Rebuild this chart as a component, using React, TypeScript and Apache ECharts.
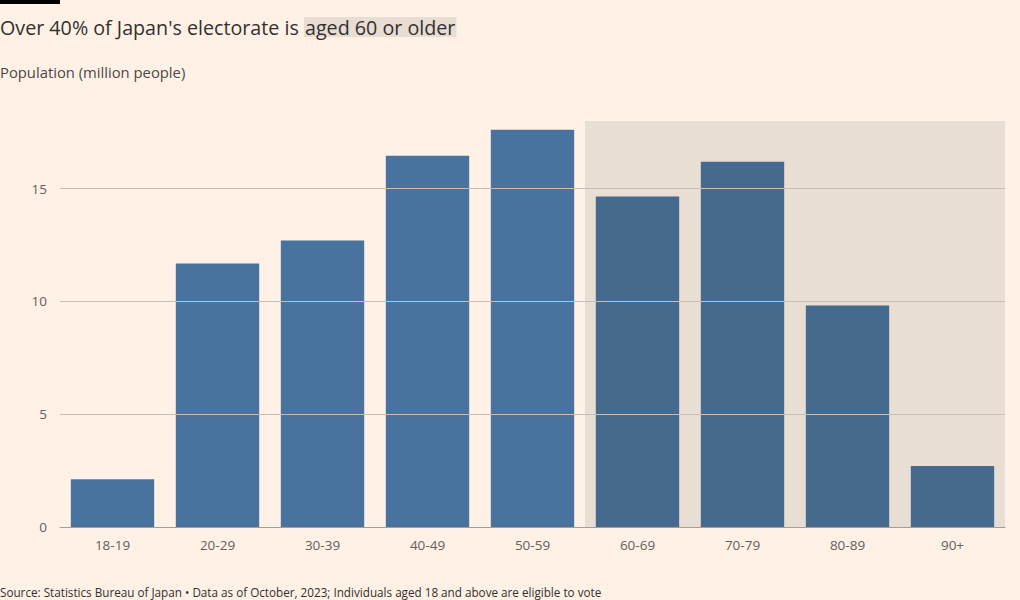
import React, { useEffect, useRef } from "react";
import * as echarts from "echarts";

const categories = ["18-19", "20-29", "30-39", "40-49", "50-59", "60-69", "70-79", "80-89", "90+"];
const populationMillions = [2.12, 11.68, 12.7, 16.46, 17.61, 14.65, 16.19, 9.82, 2.7];
const olderFrom = 5; // index of first category in "aged 60 or older"
const gridValues = [5, 10, 15];
const yTicks = { min: 0, max: 18, interval: 5 };

const FONT = "Open Sans";
const BG = "#fff1e5";

export default function App() {
  const ref = useRef<HTMLDivElement>(null);
  useEffect(() => {
    if (!ref.current) return;
    const chart = echarts.init(ref.current, null, { renderer: "svg" });
    const barData = populationMillions.map((v, i) => ({
      value: v,
      itemStyle: { color: i >= olderFrom ? "#46698e" : "#48739f" },
    }));
    chart.setOption({
      animation: false,
      backgroundColor: BG,
      textStyle: { fontFamily: FONT },
      title: [
        {
          left: 0,
          top: 14,
          padding: 0,
          text: "{a|Over 40% of Japan's electorate is }{b|aged 60 or older}",
          textStyle: {
            fontWeight: "normal",
            rich: {
              a: { fontFamily: FONT, fontSize: 19.7, fontWeight: "normal", color: "#33302e", lineHeight: 26 },
              b: {
                fontFamily: FONT,
                fontSize: 19.7,
                fontWeight: "normal",
                color: "#33302e",
                lineHeight: 26,
                backgroundColor: "#e8ddd3",
                padding: [0, 1, 0, 1],
              },
            },
          },
        },
        {
          left: 0,
          top: 64,
          padding: 0,
          text: "Population (million people)",
          textStyle: { fontFamily: FONT, fontSize: 14.8, fontWeight: "normal", color: "#4d4845" },
        },
        {
          left: 0,
          top: 586,
          padding: 0,
          text: "Source: Statistics Bureau of Japan \u2022 Data as of October, 2023; Individuals aged 18 and above are eligible to vote",
          textStyle: { fontFamily: FONT, fontSize: 11.7, fontWeight: "normal", color: "#33302e" },
        },
      ],
      graphic: [
        { type: "rect", left: 0, top: 0, shape: { width: 60, height: 4 }, style: { fill: "#000" } },
      ],
      grid: { left: 60, right: 15, top: 121, bottom: 73 },
      xAxis: [
        {
          type: "category",
          data: categories,
          axisLine: { lineStyle: { color: "#a69d96", width: 1 } },
          axisTick: { alignWithLabel: true, length: 6, lineStyle: { color: "#a69d96" } },
          axisLabel: { color: "#66605c", fontSize: 13.5, margin: 11, fontFamily: FONT },
        },
        { type: "value", min: 0, max: categories.length, show: false },
      ],
      yAxis: {
        type: "value",
        min: yTicks.min,
        max: yTicks.max,
        interval: yTicks.interval,
        axisLine: { show: false },
        axisTick: { show: false },
        splitLine: { show: false },
        axisLabel: { color: "#66605c", fontSize: 13.5, margin: 13, showMaxLabel: false, fontFamily: FONT },
      },
      series: [
        {
          type: "line",
          xAxisIndex: 1,
          yAxisIndex: 0,
          data: [],
          z: 1,
          silent: true,
          markArea: {
            silent: true,
            itemStyle: { color: "#e9ded3" },
            data: [[{ xAxis: olderFrom, yAxis: yTicks.max }, { xAxis: categories.length, yAxis: 0 }]],
          },
          markLine: {
            silent: true,
            symbol: "none",
            label: { show: false },
            lineStyle: { color: "#c9beb5", type: "solid", width: 1 },
            data: gridValues.map((v) => ({ yAxis: v })),
          },
        },
        {
          type: "bar",
          z: 3,
          data: barData,
          barCategoryGap: "20.6%",
        },
      ],
    });
    return () => chart.dispose();
  }, []);
  return (
    <div
      ref={ref}
      style={{ position: "absolute", left: 0, top: 0, width: 1020, height: 600 }}
    />
  );
}
